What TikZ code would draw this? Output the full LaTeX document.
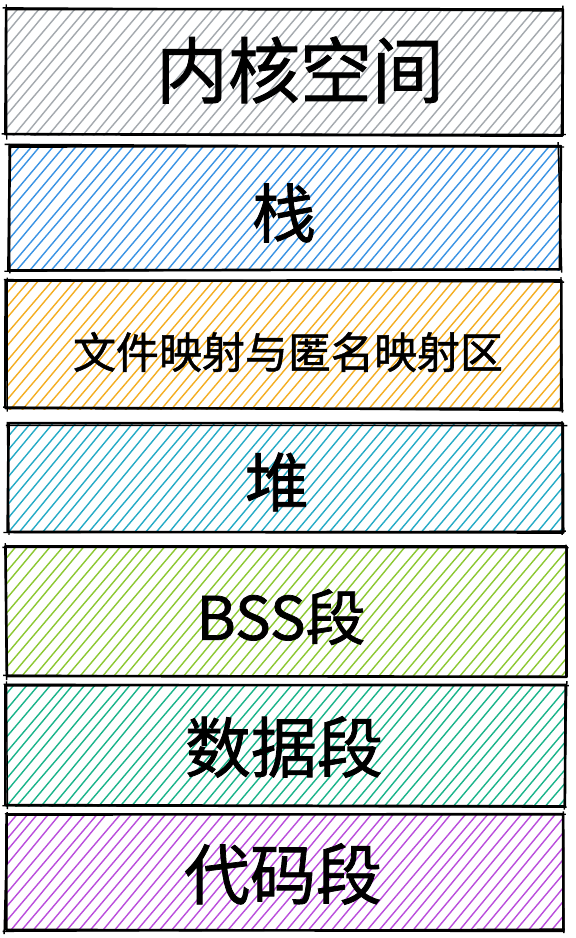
\documentclass[tikz,border=0pt]{standalone}
\usepackage{fontspec}
\newfontfamily\cjk[FakeBold=1.2]{Noto Sans CJK SC}
\definecolor{cgray}{HTML}{A4A9AE}
\definecolor{cblue}{HTML}{3A93E4}
\definecolor{corange}{HTML}{F4AE22}
\definecolor{cteal}{HTML}{25ABC6}
\definecolor{clime}{HTML}{8CC832}
\definecolor{cgreen}{HTML}{1AB48A}
\definecolor{cpurple}{HTML}{BA4EDC}
\tikzset{
  hatch/.style={line width=1.4pt, line cap=round},
  border/.style={line width=2.6pt, line join=round, black},
  border2/.style={line width=1.4pt, black},
  label/.style={font=\cjk, inner sep=0pt, anchor=center},
}
% #1 x1, #2 y1, #3 x2, #4 y2, #5 colour
\newcommand{\segbox}[5]{%
  \begin{scope}
    \clip (#1,#2) rectangle (#3,#4);
    \pgfmathsetmacro{\hh}{#4-#2}
    \pgfmathsetmacro{\ww}{\hh/1.15}
    \pgfmathsetmacro{\xs}{#1-\ww}
    \pgfmathsetmacro{\xt}{\xs+11.5}
    \foreach \xx in {\xs,\xt,...,#3} {
      \draw[hatch, #5] (\xx+rand, #4+2) -- (\xx+\ww+2*rand, #2-2);
    }
  \end{scope}
  \draw[border] (#1+rand,#2+rand) -- (#3+rand,#2+rand) -- (#3+rand,#4+rand) -- (#1+rand,#4+rand) -- cycle;
  \draw[border2] (#1-3+2*rand,#2+2*rand) -- (#3+3+2*rand,#2+2*rand);
  \draw[border2] (#3+2*rand,#2-3+2*rand) -- (#3+2*rand,#4+3+2*rand);
  \draw[border2] (#3+3+2*rand,#4+2*rand) -- (#1-3+2*rand,#4+2*rand);
  \draw[border2] (#1+2*rand,#4+3+2*rand) -- (#1+2*rand,#2-3+2*rand);
}
\begin{document}
\begin{tikzpicture}[x=1pt,y=-1pt]
\pgfmathsetseed{7}
\fill[white] (0,0) rectangle (576,938);
\useasboundingbox (0,0) rectangle (576,938);
\segbox{6}{9}{562}{135}{cgray}
\segbox{9}{146}{560}{270}{cblue}
\segbox{6}{281}{561}{409}{corange}
\segbox{8}{424}{563}{532}{cteal}
\segbox{6}{547}{566}{676}{clime}
\segbox{6}{685}{565}{806}{cgreen}
\segbox{6}{814}{563}{930}{cpurple}
\node[label, font=\cjk\fontsize{72}{80}\selectfont] (kernel) at (300,70) {内核空间};
\node[label, font=\cjk\fontsize{64}{72}\selectfont] (stack) at (284,213) {栈};
\node[label, font=\cjk\fontsize{43}{50}\selectfont] (mmap) at (288,352) {文件映射与匿名映射区};
\node[label, font=\cjk\fontsize{64}{72}\selectfont] (heap) at (277,482) {堆};
\node[label, font=\cjk\fontsize{60}{68}\selectfont] (bss) at (281,617) {BSS段};
\node[label, font=\cjk\fontsize{66}{74}\selectfont] (data) at (284,747) {数据段};
\node[label, font=\cjk\fontsize{66}{74}\selectfont] (text) at (283,874) {代码段};
\end{tikzpicture}
\end{document}
